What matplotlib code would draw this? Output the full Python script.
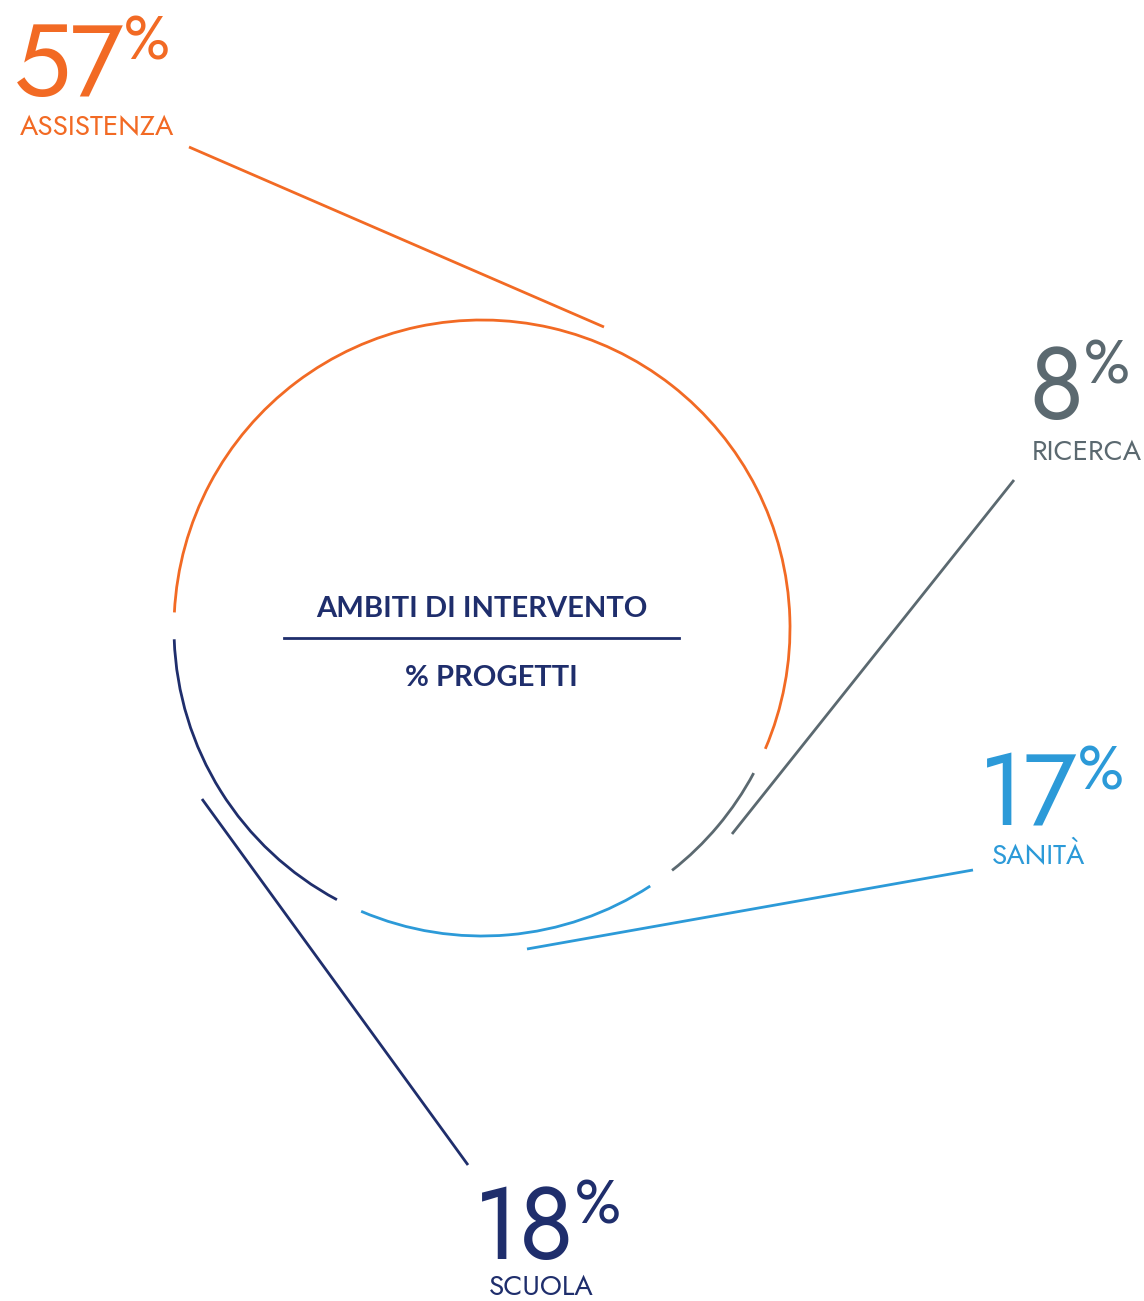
import numpy as np
import matplotlib
matplotlib.use("Agg")
from matplotlib import pyplot as plt
from matplotlib.patches import Arc

# data
categories = ["ASSISTENZA", "RICERCA", "SANITÀ", "SCUOLA"]
shares = [57, 8, 17, 18]
colors = ["#F26A24", "#5B6970", "#2C9AD8", "#1F2E6C"]

title_top = "AMBITI DI INTERVENTO"
title_bottom = "% PROGETTI"

# layout (pixel coords, y down)
W, H = 1144, 1301
cx, cy, r = 482, 628, 308
start_angle = 179.6
gap = 5.0

# label anchors: (centre x of number group, baseline y of number, left x of label, baseline y of label)
label_pos = [(92, 96, 20, 135), (1079, 419, 1032, 460), (1051, 825, 992, 864), (547, 1259, 489, 1295)]
# leader lines: (x0, y0, x1, y1)
leaders = [(189, 147, 604, 327), (1014, 480, 732, 834), (973, 870, 527, 949), (202, 799, 468, 1165)]

fig = plt.figure(figsize=(W / 100, H / 100), dpi=100)
ax = fig.add_axes([0, 0, 1, 1])
ax.set_xlim(0, W)
ax.set_ylim(H, 0)
ax.axis("off")

font = ["Jost", "Lato"]

# arcs (y axis inverted, so visual angle t is data angle -t)
a = start_angle
for share, col in zip(shares, colors):
    span = share / 100 * 360
    a0 = a - gap / 2
    a1 = a - span + gap / 2
    arc = Arc((cx, cy), 2 * r, 2 * r, theta1=-a0, theta2=-a1, color=col, lw=2)
    ax.add_patch(arc)
    a -= span

for (x0, y0, x1, y1), col in zip(leaders, colors):
    ax.plot([x0, x1], [y0, y1], color=col, lw=2, solid_capstyle="butt")

fig.canvas.draw()
renderer = fig.canvas.get_renderer()

for cat, share, col, (gx, ny, lx, ly) in zip(categories, shares, colors, label_pos):
    t = ax.text(0, ny, str(share), color=col, fontsize=73, family=font,
                ha="left", va="baseline")
    p = ax.text(0, ny - 36, "%", color=col, fontsize=44, family=font,
                ha="left", va="baseline")
    nw = t.get_window_extent(renderer).width
    pw = p.get_window_extent(renderer).width
    x0 = gx - (nw + pw) / 2
    t.set_x(x0)
    p.set_x(x0 + nw)
    ax.text(lx, ly, cat, color=col, fontsize=20, family=font,
            ha="left", va="baseline")

ax.text(482, 617, title_top, color="#1F2E6C", fontsize=21, family="Lato",
        fontweight="bold", ha="center", va="baseline")
ax.plot([284, 679], [638, 638], color="#1F2E6C", lw=2)
ax.text(491, 686, title_bottom, color="#1F2E6C", fontsize=21, family="Lato",
        fontweight="bold", ha="center", va="baseline")

fig.savefig("out.png", dpi=100)
